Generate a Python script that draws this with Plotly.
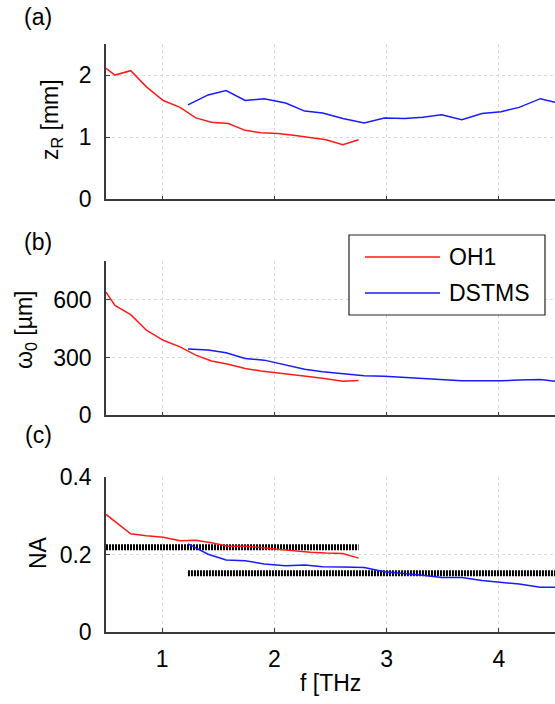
import plotly.graph_objects as go

# ---------------- data ----------------
f_oh1 = [0.5, 0.58, 0.72, 0.86, 1.01, 1.16, 1.30, 1.44, 1.59, 1.74, 1.88, 2.03, 2.17, 2.32, 2.46, 2.61, 2.75]
zr_oh1 = [2.11, 2.00, 2.07, 1.81, 1.59, 1.48, 1.31, 1.24, 1.22, 1.11, 1.07, 1.06, 1.03, 1.00, 0.96, 0.88, 0.96]
w0_oh1 = [639, 570, 522, 441, 389, 355, 312, 282, 265, 243, 230, 221, 212, 200, 189, 176, 180]
na_oh1 = [0.304, 0.285, 0.254, 0.249, 0.245, 0.236, 0.237, 0.231, 0.222, 0.222, 0.218, 0.213, 0.209, 0.206, 0.204, 0.203, 0.191]

f_dst = [1.23, 1.41, 1.57, 1.74, 1.91, 2.10, 2.27, 2.43, 2.61, 2.80, 2.98, 3.16, 3.32, 3.49, 3.67, 3.85, 4.02, 4.18, 4.37, 4.50]
zr_dst = [1.52, 1.68, 1.75, 1.59, 1.62, 1.55, 1.42, 1.39, 1.30, 1.23, 1.31, 1.30, 1.32, 1.36, 1.28, 1.38, 1.41, 1.48, 1.62, 1.56]
w0_dst = [344, 338, 324, 295, 286, 260, 239, 226, 214, 205, 203, 197, 193, 188, 179, 179, 179, 183, 186, 177]
na_dst = [0.228, 0.201, 0.186, 0.184, 0.176, 0.171, 0.173, 0.169, 0.168, 0.167, 0.156, 0.152, 0.147, 0.141, 0.141, 0.133, 0.129, 0.124, 0.116, 0.116]

na_mean_oh1 = 0.219
na_mean_dst = 0.152

series_names = ["OH1", "DSTMS"]

x_ticks = [1, 2, 3, 4]
zr_ticks = [0, 1, 2]
w0_ticks = [0, 300, 600]
na_ticks = [0, 0.2, 0.4]
na_ticktext = ["0", "0.2", "0.4"]

# ---------------- figure ----------------
W, H = 555, 704
FONT = "Arial, Liberation Sans, sans-serif"
FS = 23
RED = "#ff1a1a"
BLUE = "#1a1aff"
COLORS = [RED, BLUE]

def py(px):
    return 1 - px / H

def pxx(px):
    return px / W

fig = go.Figure()

# panel a
fig.add_trace(go.Scatter(x=f_oh1, y=zr_oh1, mode="lines", line=dict(color=RED, width=1.5),
                         xaxis="x", yaxis="y", name=series_names[0], showlegend=False))
fig.add_trace(go.Scatter(x=f_dst, y=zr_dst, mode="lines", line=dict(color=BLUE, width=1.5),
                         xaxis="x", yaxis="y", name=series_names[1], showlegend=False))
# panel b
fig.add_trace(go.Scatter(x=f_oh1, y=w0_oh1, mode="lines", line=dict(color=RED, width=1.5),
                         xaxis="x2", yaxis="y2", name=series_names[0], showlegend=False))
fig.add_trace(go.Scatter(x=f_dst, y=w0_dst, mode="lines", line=dict(color=BLUE, width=1.5),
                         xaxis="x2", yaxis="y2", name=series_names[1], showlegend=False))
# panel c
fig.add_trace(go.Scatter(x=[f_oh1[0], f_oh1[-1]], y=[na_mean_oh1, na_mean_oh1], mode="lines",
                         line=dict(color="black", width=6, dash="2px,1px"),
                         xaxis="x3", yaxis="y3", showlegend=False))
fig.add_trace(go.Scatter(x=[f_dst[0], f_dst[-1]], y=[na_mean_dst, na_mean_dst], mode="lines",
                         line=dict(color="black", width=6, dash="2px,1px"),
                         xaxis="x3", yaxis="y3", showlegend=False))
fig.add_trace(go.Scatter(x=f_oh1, y=na_oh1, mode="lines", line=dict(color=RED, width=1.5),
                         xaxis="x3", yaxis="y3", name=series_names[0], showlegend=False))
fig.add_trace(go.Scatter(x=f_dst, y=na_dst, mode="lines", line=dict(color=BLUE, width=1.5),
                         xaxis="x3", yaxis="y3", name=series_names[1], showlegend=False))

xdom = [106 / W, 1.0]
doms = [[py(199.3), py(44)], [py(415.3), py(261)], [py(632), py(477.3)]]

axis_common = dict(showline=True, linecolor="#3a3a3a", linewidth=1.5, ticks="inside",
                   ticklen=4, tickcolor="#3a3a3a", showgrid=True, gridcolor="#d9d9d9",
                   griddash="3px,3px", gridwidth=1, zeroline=False, automargin=False,
                   tickfont=dict(family=FONT, size=FS, color="black"))

fig.update_layout(
    template="none",
    width=W, height=H, margin=dict(l=0, r=0, t=0, b=0, pad=0), autosize=False,
    paper_bgcolor="white", plot_bgcolor="white", showlegend=False,
    font=dict(family=FONT, size=FS, color="black"),
    xaxis=dict(domain=xdom, anchor="y", range=[0.5, 4.5], tickvals=x_ticks, showticklabels=False, **axis_common),
    xaxis2=dict(domain=xdom, anchor="y2", range=[0.5, 4.5], tickvals=x_ticks, showticklabels=False, **axis_common),
    xaxis3=dict(domain=xdom, anchor="y3", range=[0.5, 4.5], tickvals=x_ticks, ticklabelstandoff=6, **axis_common),
    yaxis=dict(domain=doms[0], anchor="x", range=[0, 2.5], tickvals=zr_ticks, ticklabelstandoff=8, **axis_common),
    yaxis2=dict(domain=doms[1], anchor="x2", range=[0, 800], tickvals=w0_ticks, ticklabelstandoff=8, **axis_common),
    yaxis3=dict(domain=doms[2], anchor="x3", range=[0, 0.4], tickvals=na_ticks, ticktext=na_ticktext,
                ticklabelstandoff=8, **axis_common),
)

# legend box (panel b)
fig.add_shape(type="rect", xref="paper", yref="paper", x0=pxx(349), x1=pxx(545), y0=py(315), y1=py(235),
              line=dict(color="#222", width=1.2), fillcolor="white", layer="above")
for i, (nm, col, yy) in enumerate(zip(series_names, COLORS, [257, 293])):
    fig.add_shape(type="line", xref="paper", yref="paper", x0=pxx(365), x1=pxx(440), y0=py(yy), y1=py(yy),
                  line=dict(color=col, width=1.5), layer="above")
    fig.add_annotation(text=nm, x=pxx(447), y=py(yy), xref="paper", yref="paper", showarrow=False,
                       xanchor="left", yanchor="middle", font=dict(family=FONT, size=FS, color="black"))

annos = [
    dict(text="(a)", x=38, y=17),
    dict(text="(b)", x=38, y=242),
    dict(text="(c)", x=38, y=435),
    dict(text="f [THz", x=330, y=683),
    dict(text="z<sub>R</sub> [mm]", x=52, y=120, textangle=-90),
    dict(text="ω<sub>0</sub> [µm]", x=25, y=330, textangle=-90),
    dict(text="NA", x=38, y=553, textangle=-90),
]
for a in annos:
    fig.add_annotation(text=a["text"], x=a["x"] / W, y=py(a["y"]), xref="paper", yref="paper",
                       showarrow=False, xanchor="center", yanchor="middle",
                       textangle=a.get("textangle", 0), font=dict(family=FONT, size=FS, color="black"))

fig.write_html("out.html", config={"displayModeBar": False, "responsive": False},
               post_script="document.body.style.margin='0';document.body.style.overflow='hidden';")
